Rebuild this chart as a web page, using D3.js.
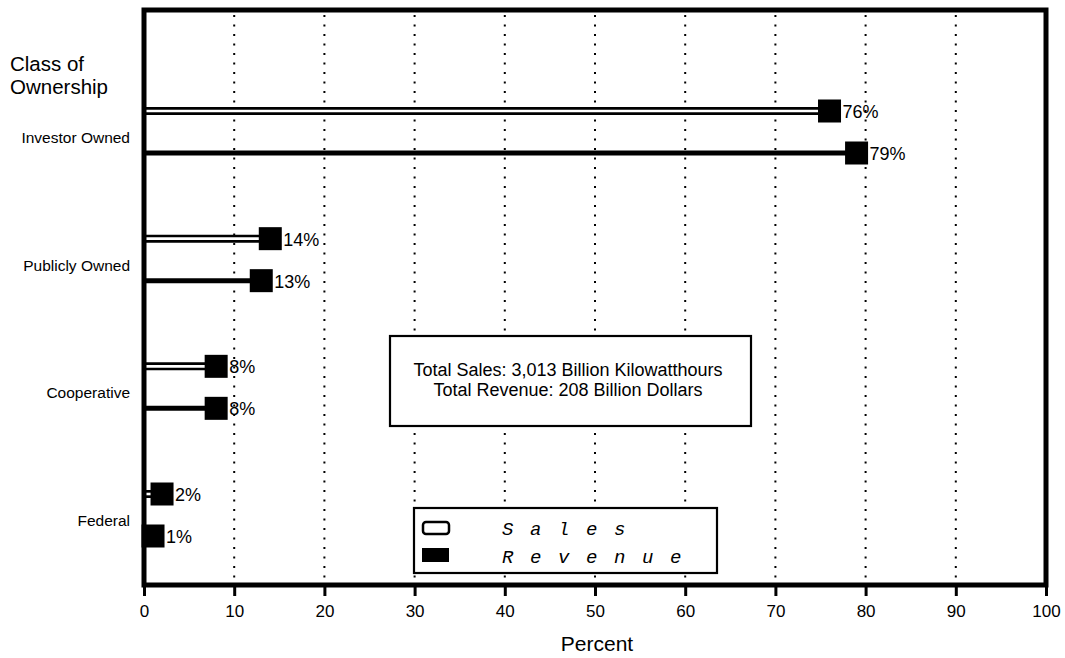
<!DOCTYPE html>
<html>
<head>
<meta charset="utf-8">
<script src="https://cdn.jsdelivr.net/npm/d3@7"></script>
<style>
  html, body { margin: 0; padding: 0; background: #fff; }
  svg { display: block; }
  text { font-family: "Liberation Sans", Arial, sans-serif; fill: #000; }
</style>
</head>
<body>
<svg id="chart" width="1065" height="658"></svg>
<script>
const categories = ["Investor Owned", "Publicly Owned", "Cooperative", "Federal"];
const salesValues = [76, 14, 8, 2];
const revenueValues = [79, 13, 8, 1];
const tickValues = [0, 10, 20, 30, 40, 50, 60, 70, 80, 90, 100];
const seriesNames = ["Sales", "Revenue"];
const infoLines = ["Total Sales: 3,013 Billion Kilowatthours", "Total Revenue: 208 Billion Dollars"];

const svg = d3.select("#chart");
const plot = { left: 144, right: 1046, top: 10, bottom: 585 };

const x = d3.scaleLinear().domain([0, 100]).range([plot.left, plot.right]);
const y = d3.scalePoint().domain(categories).range([138, 521]);
const salesOffset = -27, revenueOffset = 15;

// gridlines
svg.append("g").selectAll("line")
  .data(tickValues.filter(t => t > 0 && t < 100))
  .join("line")
  .attr("x1", d => x(d)).attr("x2", d => x(d))
  .attr("y1", plot.top + 5).attr("y2", plot.bottom - 2)
  .attr("stroke", "#000").attr("stroke-width", 2)
  .attr("stroke-dasharray", "2,7.5");

// info box
const info = svg.append("g");
info.append("rect").attr("x", 390).attr("y", 336).attr("width", 361).attr("height", 90)
  .attr("fill", "#fff").attr("stroke", "#000").attr("stroke-width", 2.2);
info.selectAll("text").data(infoLines).join("text")
  .attr("x", 568).attr("y", (d, i) => 376 + i * 20)
  .attr("text-anchor", "middle").attr("font-size", 18)
  .text(d => d);

// legend
const lg = svg.append("g");
lg.append("rect").attr("x", 414).attr("y", 508).attr("width", 303).attr("height", 65)
  .attr("fill", "#fff").attr("stroke", "#000").attr("stroke-width", 2.2);
lg.append("rect").attr("x", 423).attr("y", 522).attr("width", 26).attr("height", 12).attr("rx", 3)
  .attr("fill", "#fff").attr("stroke", "#000").attr("stroke-width", 2.5);
lg.append("rect").attr("x", 422).attr("y", 548).attr("width", 27).attr("height", 14)
  .attr("fill", "#000");
lg.selectAll("text.leg").data(seriesNames).join("text").attr("class", "leg")
  .attr("x", 502).attr("y", (d, i) => 535 + i * 28)
  .style("font-family", "'Liberation Mono', 'Courier New', monospace")
  .style("font-style", "italic")
  .attr("font-size", 19)
  .attr("letter-spacing", 16.6)
  .text(d => d);

// bars
const rows = categories.map((c, i) => ({ c, s: salesValues[i], r: revenueValues[i] }));
const bars = svg.append("g");
// sales: double line
bars.selectAll("line.so").data(rows).join("line").attr("class", "so")
  .attr("x1", x(0)).attr("x2", d => x(d.s))
  .attr("y1", d => y(d.c) + salesOffset).attr("y2", d => y(d.c) + salesOffset)
  .attr("stroke", "#000").attr("stroke-width", 8);
bars.selectAll("line.si").data(rows).join("line").attr("class", "si")
  .attr("x1", x(0)).attr("x2", d => x(d.s))
  .attr("y1", d => y(d.c) + salesOffset).attr("y2", d => y(d.c) + salesOffset)
  .attr("stroke", "#fff").attr("stroke-width", 2.6);
// revenue: solid line
bars.selectAll("line.r").data(rows).join("line").attr("class", "r")
  .attr("x1", x(0)).attr("x2", d => x(d.r))
  .attr("y1", d => y(d.c) + revenueOffset).attr("y2", d => y(d.c) + revenueOffset)
  .attr("stroke", "#000").attr("stroke-width", 5);

// markers
const m = 23;
bars.selectAll("rect.ms").data(rows).join("rect").attr("class", "ms")
  .attr("x", d => x(d.s) - m / 2).attr("y", d => y(d.c) + salesOffset - m / 2)
  .attr("width", m).attr("height", m).attr("fill", "#000");
bars.selectAll("rect.mr").data(rows).join("rect").attr("class", "mr")
  .attr("x", d => x(d.r) - m / 2).attr("y", d => y(d.c) + revenueOffset - m / 2)
  .attr("width", m).attr("height", m).attr("fill", "#000");

// value labels
bars.selectAll("text.ls").data(rows).join("text").attr("class", "ls")
  .attr("x", d => x(d.s) + 13).attr("y", d => y(d.c) + salesOffset + 7)
  .attr("font-size", 18).text(d => d.s + "%");
bars.selectAll("text.lr").data(rows).join("text").attr("class", "lr")
  .attr("x", d => x(d.r) + 13).attr("y", d => y(d.c) + revenueOffset + 7)
  .attr("font-size", 18).text(d => d.r + "%");

// frame
svg.append("rect").attr("x", plot.left).attr("y", plot.top)
  .attr("width", plot.right - plot.left).attr("height", plot.bottom - plot.top)
  .attr("fill", "none").attr("stroke", "#000").attr("stroke-width", 5);

// x axis
const xAxis = d3.axisBottom(x).tickValues(tickValues).tickSize(11).tickPadding(9)
  .tickFormat(d3.format("d"));
const ax = svg.append("g").attr("transform", `translate(0,${plot.bottom})`).call(xAxis);
ax.select(".domain").remove();
ax.selectAll(".tick line").attr("stroke", "#000").attr("stroke-width", 3);
ax.selectAll(".tick text").attr("font-size", 17)
  .style("font-family", "'Liberation Sans', Arial, sans-serif").attr("fill", "#000");

svg.append("text").attr("x", x(50) + 2).attr("y", 651)
  .attr("text-anchor", "middle").attr("font-size", 21).text("Percent");

// y labels
svg.append("g").selectAll("text").data(categories).join("text")
  .attr("x", 130).attr("y", d => y(d) + 5)
  .attr("text-anchor", "end").attr("font-size", 15.5).text(d => d);

svg.append("text").attr("x", 10).attr("y", 71).attr("font-size", 20.5).text("Class of");
svg.append("text").attr("x", 10).attr("y", 94).attr("font-size", 20.5).text("Ownership");
</script>
</body>
</html>
